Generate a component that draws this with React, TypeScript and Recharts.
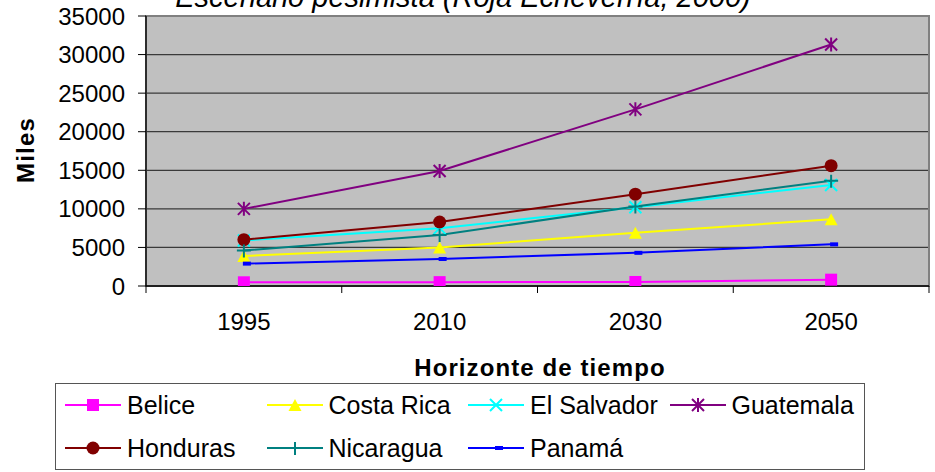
import React from 'react';
import { LineChart, Line, XAxis, YAxis, CartesianGrid, ReferenceArea, Label } from 'recharts';

const years = ['1995', '2010', '2030', '2050'];
const belice = [480, 500, 520, 820];
const costaRica = [3900, 5000, 6900, 8650];
const elSalvador = [5900, 7500, 10200, 13100];
const guatemala = [10000, 14900, 22900, 31300];
const honduras = [6000, 8300, 11900, 15600];
const nicaragua = [4600, 6600, 10300, 13650];
const panama = [2900, 3500, 4300, 5400];
const yTicks = [0, 5000, 10000, 15000, 20000, 25000, 30000, 35000];

const FONT = '"Liberation Sans", Arial, sans-serif';

const series = [
  { key: 'belice', name: 'Belice', color: '#FF00FF', shape: 'square', values: belice },
  { key: 'costaRica', name: 'Costa Rica', color: '#FFFF00', shape: 'triangle', values: costaRica },
  { key: 'elSalvador', name: 'El Salvador', color: '#00FFFF', shape: 'x', values: elSalvador },
  { key: 'guatemala', name: 'Guatemala', color: '#800080', shape: 'star', values: guatemala },
  { key: 'honduras', name: 'Honduras', color: '#800000', shape: 'circle', values: honduras },
  { key: 'nicaragua', name: 'Nicaragua', color: '#008080', shape: 'plus', values: nicaragua },
  { key: 'panama', name: 'Panamá', color: '#0000FF', shape: 'dash', values: panama },
];

const data = years.map((year, i) => {
  const row: Record<string, number | string> = { idx: i, year };
  series.forEach((s) => { row[s.key] = s.values[i]; });
  return row;
});

function Marker({ shape, color, cx, cy }: { shape: string; color: string; cx: number; cy: number }) {
  switch (shape) {
    case 'square':
      return <rect x={cx - 6} y={cy - 6} width={12} height={12} fill={color} />;
    case 'triangle':
      return <polygon points={`${cx},${cy - 6} ${cx + 6.5},${cy + 6} ${cx - 6.5},${cy + 6}`} fill={color} />;
    case 'x':
      return <path d={`M${cx - 6},${cy - 6}L${cx + 6},${cy + 6}M${cx - 6},${cy + 6}L${cx + 6},${cy - 6}`} stroke={color} strokeWidth={2} fill="none" />;
    case 'star':
      return <path d={`M${cx - 6},${cy - 6}L${cx + 6},${cy + 6}M${cx - 6},${cy + 6}L${cx + 6},${cy - 6}M${cx},${cy - 7}L${cx},${cy + 7}`} stroke={color} strokeWidth={2} fill="none" />;
    case 'circle':
      return <circle cx={cx} cy={cy} r={6.5} fill={color} />;
    case 'plus':
      return <path d={`M${cx - 7},${cy}L${cx + 7},${cy}M${cx},${cy - 6}L${cx},${cy + 7}`} stroke={color} strokeWidth={2} fill="none" />;
    case 'dash':
      return <rect x={cx - 1} y={cy - 2} width={8} height={4} fill={color} />;
    default:
      return null;
  }
}

function LegendBox() {
  return (
    <div
      style={{
        position: 'absolute', left: 55, top: 383, width: 810, height: 87,
        border: '1px solid #555', boxSizing: 'border-box', background: '#fff',
        display: 'grid', gridTemplateColumns: 'repeat(4, 201.5px)', gridTemplateRows: '42px 44px',
        paddingLeft: 9, fontFamily: FONT, fontSize: 25, color: '#000',
      }}
    >
      {series.map((s) => (
        <div key={s.key} style={{ display: 'flex', alignItems: 'center', whiteSpace: 'nowrap' }}>
          <svg width={56} height={20} style={{ flex: 'none' }}>
            <line x1={0} y1={10} x2={56} y2={10} stroke={s.color} strokeWidth={2} />
            <Marker shape={s.shape} color={s.color} cx={28} cy={10} />
          </svg>
          <span style={{ marginLeft: 6 }}>{s.name}</span>
        </div>
      ))}
    </div>
  );
}

export default function App() {
  return (
    <div style={{ position: 'absolute', left: 0, top: 0, width: 935, height: 472, background: '#fff', fontFamily: FONT }}>
      <LineChart width={935} height={472} data={data} margin={{ top: 16, right: 6, left: 0, bottom: 0 }}>
        <CartesianGrid xAxisId="v" vertical={false} fill="#C0C0C0" stroke="#3a3a3a" strokeWidth={1.3} />
        <XAxis
          xAxisId="b"
          type="number"
          dataKey="idx"
          domain={[-0.5, 3.5]}
          ticks={[-0.5, 0.5, 1.5, 2.5, 3.5]}
          tickFormatter={() => ''}
          tickSize={7}
          height={1}
          axisLine={{ stroke: '#000', strokeWidth: 1.3 }}
          tickLine={{ stroke: '#000' }}
          allowDataOverflow
        />
        <XAxis
          xAxisId="v"
          type="number"
          dataKey="idx"
          domain={[-0.5, 3.5]}
          ticks={[0, 1, 2, 3]}
          tickFormatter={(v: number) => years[v]}
          tickSize={0}
          tickMargin={26}
          height={185}
          axisLine={false}
          tickLine={false}
          tick={{ fill: '#000', fontSize: 24, fontFamily: FONT }}
          allowDataOverflow
        >
          <Label
            content={() => (
              <text x={540} y={376} textAnchor="middle" fontFamily={FONT} fontSize={24} fontWeight="bold" letterSpacing={1.1} fill="#000">
                Horizonte de tiempo
              </text>
            )}
          />
        </XAxis>
        <YAxis
          type="number"
          domain={[0, 35000]}
          ticks={yTicks}
          width={146}
          tickSize={8}
          tickMargin={13}
          axisLine={{ stroke: '#000', strokeWidth: 1.3 }}
          tickLine={{ stroke: '#000' }}
          tick={{ fill: '#000', fontSize: 24, fontFamily: FONT }}
          allowDataOverflow
        >
          <Label
            content={() => (
              <text x={34} y={150} transform="rotate(-90, 34, 150)" textAnchor="middle" fontFamily={FONT} fontSize={24} fontWeight="bold" letterSpacing={1.2} fill="#000">
                Miles
              </text>
            )}
          />
        </YAxis>
        <ReferenceArea xAxisId="v" x1={-0.5} x2={3.5} y1={0} y2={35000} fill="none" stroke="#808080" strokeWidth={2} ifOverflow="visible" />
        {series.map((s) => (
          <Line
            key={s.key}
            xAxisId="v"
            type="linear"
            dataKey={s.key}
            name={s.name}
            stroke={s.color}
            strokeWidth={2}
            isAnimationActive={false}
            activeDot={false}
            dot={(p: any) => <Marker key={`${s.key}-${p.index}`} shape={s.shape} color={s.color} cx={p.cx} cy={p.cy} />}
          />
        ))}
      </LineChart>
      <svg width={935} height={30} style={{ position: 'absolute', left: 0, top: 0, overflow: 'hidden' }}>
        <text x={463} y={7} textAnchor="middle" fontFamily={FONT} fontSize={29} fontStyle="italic" fill="#000">
          Escenario pesimista (Roja Echeverría, 2000)
        </text>
      </svg>
      <LegendBox />
    </div>
  );
}
